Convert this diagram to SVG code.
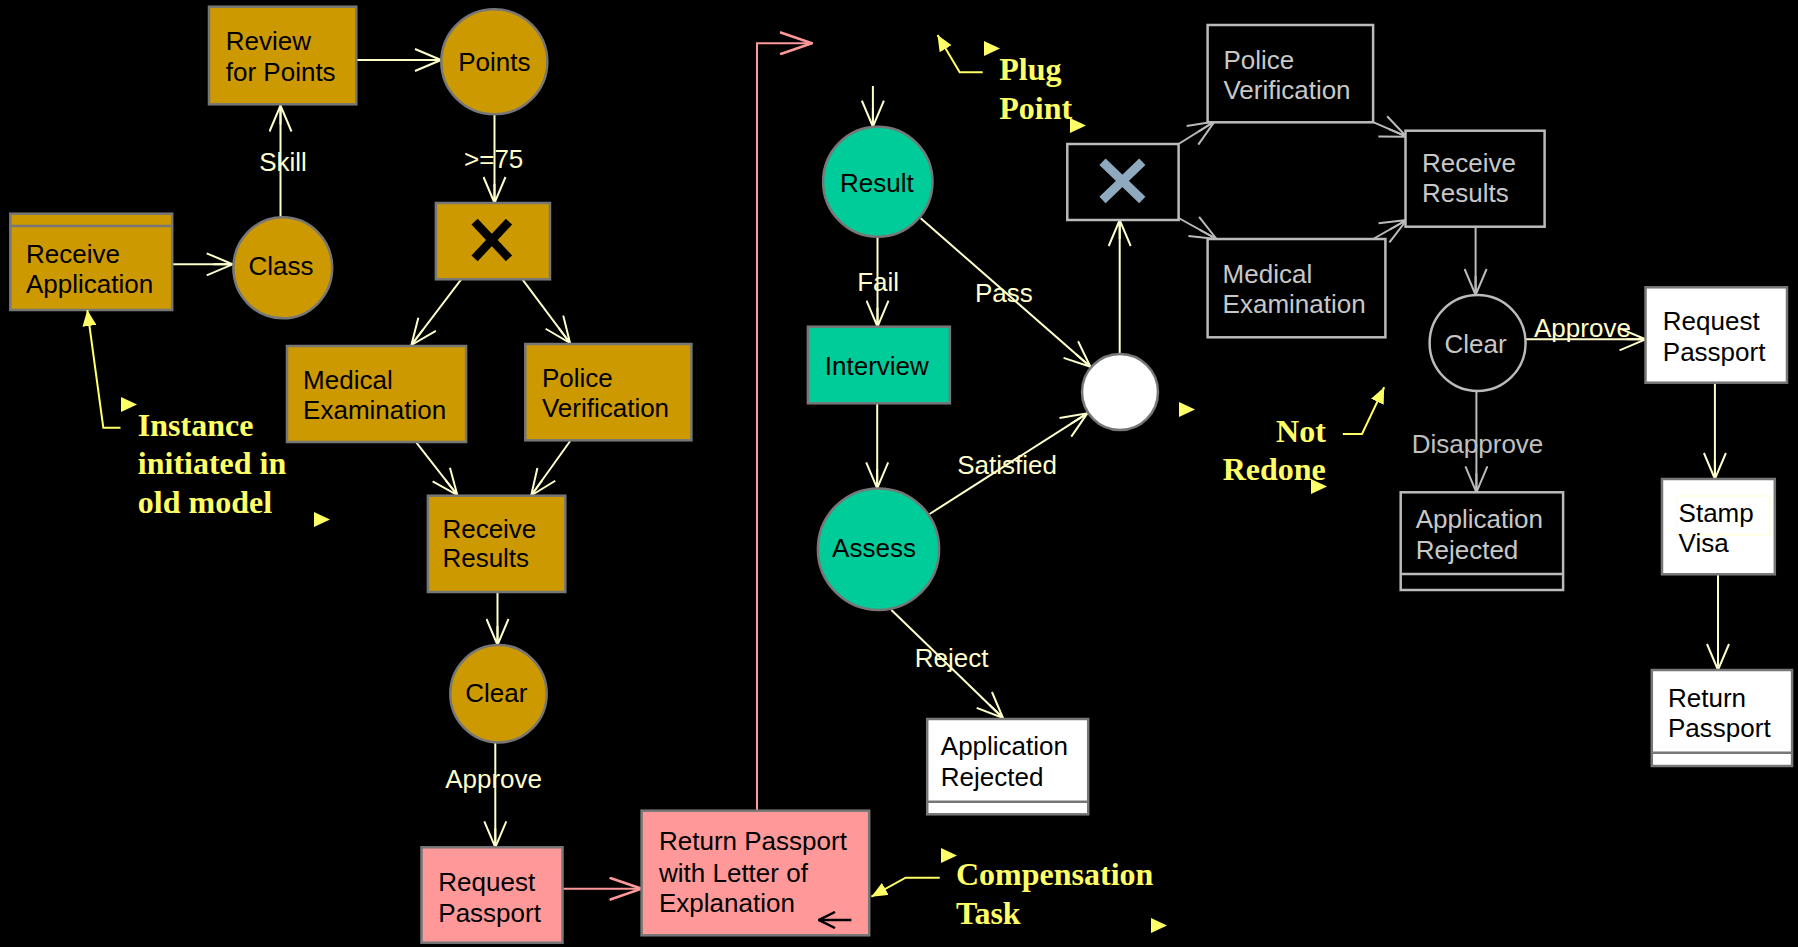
<svg xmlns="http://www.w3.org/2000/svg" width="1798" height="947" viewBox="0 0 1798 947">
  <style>
    .t { font-family: "Liberation Sans", Arial, sans-serif; font-size: 26px; fill: #000; }
    .tg { font-family: "Liberation Sans", Arial, sans-serif; font-size: 26px; fill: #C8C8C8; }
    .lbl { font-family: "Liberation Sans", Arial, sans-serif; font-size: 26px; fill: #FFFFCC; }
    .lblg { font-family: "Liberation Sans", Arial, sans-serif; font-size: 26px; fill: #C0C0C0; }
    .note { font-family: "Liberation Serif", "Times New Roman", serif; font-size: 32px; font-weight: bold; fill: #FFFF66; }
    .gold { fill: #CC9900; stroke: #777777; stroke-width: 2.5; }
    .teal { fill: #00CC99; stroke: #777777; stroke-width: 2.5; }
    .pink { fill: #FF9999; stroke: #777777; stroke-width: 2.5; }
    .white { fill: #FFFFFF; stroke: #777777; stroke-width: 2.5; }
    .dark { fill: #000000; stroke: #BBBBBB; stroke-width: 2.5; }
    .c { fill: none; stroke: #FFFFCC; stroke-width: 2; marker-end: url(#aCream); }
    .cg { fill: none; stroke: #BBBBBB; stroke-width: 2; marker-end: url(#aGray); }
    .cp { fill: none; stroke: #FF9999; stroke-width: 2; marker-end: url(#aPink); }
    .cy { fill: none; stroke: #FFFF66; stroke-width: 2; marker-end: url(#aYellow); }
    .handle { fill: #FFFF66; }
  </style>
  <defs>
    <marker id="aCream" viewBox="0 0 28 24" refX="27" refY="12" markerWidth="28" markerHeight="24" markerUnits="userSpaceOnUse" orient="auto">
      <path d="M1,1 L27,12 L1,23 M27,12 L8,12" fill="none" stroke="#FFFFCC" stroke-width="2"/>
    </marker>
    <marker id="aGray" viewBox="0 0 28 24" refX="27" refY="12" markerWidth="28" markerHeight="24" markerUnits="userSpaceOnUse" orient="auto">
      <path d="M1,1 L27,12 L1,23 M27,12 L8,12" fill="none" stroke="#BBBBBB" stroke-width="2"/>
    </marker>
    <marker id="aPink" viewBox="0 0 34 24" refX="33" refY="12" markerWidth="34" markerHeight="24" markerUnits="userSpaceOnUse" orient="auto">
      <path d="M1,1 L33,12 L1,23" fill="none" stroke="#FF9999" stroke-width="2.5"/>
    </marker>
    <marker id="aYellow" viewBox="0 0 16 14" refX="16" refY="7" markerWidth="16" markerHeight="14" markerUnits="userSpaceOnUse" orient="auto">
      <path d="M0,0 L16,7 L0,14 Z" fill="#FFFF66"/>
    </marker>
    <marker id="aBlack" viewBox="0 0 18 18" refX="17" refY="9" markerWidth="18" markerHeight="18" markerUnits="userSpaceOnUse" orient="auto">
      <path d="M1,1 L17,9 L1,17" fill="none" stroke="#000" stroke-width="2.5"/>
    </marker>
    <path id="tri" d="M0,0 L16,7.5 L0,15 Z"/>
  </defs>

  <rect x="0" y="0" width="1798" height="947" fill="#000000"/>

  <!-- connectors -->
  <g id="connectors">
    <path class="c" d="M171,264.3 L232.7,264.3"/>
    <path class="c" d="M280.5,217 L280.5,105.5"/>
    <path class="c" d="M356.3,60 L441,60"/>
    <path class="c" d="M494.5,114.3 L494.5,203"/>
    <path class="c" d="M461.2,279.3 L411.4,345"/>
    <path class="c" d="M522.4,279.3 L570,343"/>
    <path class="c" d="M416.4,442.7 L457.3,495"/>
    <path class="c" d="M570.2,441 L531.2,495.5"/>
    <path class="c" d="M497.5,592 L497.5,645"/>
    <path class="c" d="M495.3,742.3 L495.3,847.3"/>
    <path class="cp" d="M562.5,888.7 L641.6,888.7"/>
    <path class="cp" d="M757,810.7 L757,43.3 L812,43.3"/>
    <path class="c" d="M872.9,86 L872.9,126.7"/>
    <path class="c" d="M877.5,236.7 L877.5,326.7"/>
    <path class="c" d="M920.7,218.3 L1090.4,366.7"/>
    <path class="c" d="M877.2,403.3 L877.2,488.3"/>
    <path class="c" d="M929.6,514 L1087.3,413.3"/>
    <path class="c" d="M891.4,610 L1003,718"/>
    <path class="c" d="M1119.7,354.3 L1119.7,220"/>
    <path class="cg" d="M1178.6,144 L1214.5,121.5"/>
    <path class="cg" d="M1178.6,218 L1216.5,239"/>
    <path class="cg" d="M1372,121.7 L1406.6,136.7"/>
    <path class="cg" d="M1373.1,239 L1406.6,220"/>
    <path class="cg" d="M1475.6,226.7 L1475.6,295"/>
    <path class="c" d="M1523.7,339.3 L1645.5,339.3"/>
    <path class="cg" d="M1476.4,391 L1476.4,492.3"/>
    <path class="c" d="M1714.9,382.7 L1714.9,479"/>
    <path class="c" d="M1718,574.3 L1718,670"/>

    <!-- transition labels -->
    <text class="lbl" x="283" y="170.7" text-anchor="middle">Skill</text>
    <text class="lbl" x="493.7" y="168.3" text-anchor="middle">&gt;=75</text>
    <text class="lbl" x="493.6" y="788.3" text-anchor="middle">Approve</text>
    <text class="lbl" x="878.2" y="290.7" text-anchor="middle">Fail</text>
    <text class="lbl" x="975" y="301.7">Pass</text>
    <text class="lbl" x="957.2" y="474">Satisfied</text>
    <text class="lbl" x="951.6" y="666.7" text-anchor="middle">Reject</text>
    <text class="lbl" x="1534" y="336.7" fill="#FFFFAA">Approve</text>
    <text class="lblg" x="1411.8" y="452.7">Disapprove</text>
  </g>

  <!-- old model (left) -->
  <g id="receive-application">
    <rect class="gold" x="10.3" y="213.7" width="161.9" height="96.3"/>
    <line x1="10.3" y1="226" x2="172.2" y2="226" stroke="#777777" stroke-width="2.5"/>
    <text class="t" x="26" y="263">Receive</text>
    <text class="t" x="26" y="293">Application</text>
  </g>
  <g id="class">
    <ellipse class="gold" cx="282.8" cy="267.8" rx="49.4" ry="50.5"/>
    <text class="t" x="281" y="275" text-anchor="middle">Class</text>
  </g>
  <g id="review-for-points">
    <rect class="gold" x="209" y="6.7" width="147.3" height="97.6"/>
    <text class="t" x="225.8" y="50">Review</text>
    <text class="t" x="225.8" y="80.7">for Points</text>
  </g>
  <g id="points">
    <ellipse class="gold" cx="494.3" cy="61.8" rx="53" ry="52.5"/>
    <text class="t" x="494.3" y="70.7" text-anchor="middle">Points</text>
  </g>
  <g id="split-left">
    <rect class="gold" x="435.9" y="203" width="114.1" height="76.3"/>
    <path d="M474.6,221.7 L509,258.3 M509,221.7 L474.6,258.3" stroke="#000" stroke-width="8.5"/>
  </g>
  <g id="medical-examination-left">
    <rect class="gold" x="287" y="346" width="179.1" height="96"/>
    <text class="t" x="303.1" y="389.3">Medical</text>
    <text class="t" x="303.1" y="418.7">Examination</text>
  </g>
  <g id="police-verification-left">
    <rect class="gold" x="525.3" y="344" width="166.1" height="96.3"/>
    <text class="t" x="541.9" y="386.7">Police</text>
    <text class="t" x="541.9" y="417.3">Verification</text>
  </g>
  <g id="receive-results-left">
    <rect class="gold" x="427.9" y="495.7" width="137.4" height="96.3"/>
    <text class="t" x="442.4" y="537.7">Receive</text>
    <text class="t" x="442.4" y="567.3">Results</text>
  </g>
  <g id="clear-left">
    <ellipse class="gold" cx="498.5" cy="693.7" rx="48.2" ry="48.7"/>
    <text class="t" x="496.3" y="701.7" text-anchor="middle">Clear</text>
  </g>
  <g id="request-passport-left">
    <rect class="pink" x="421.5" y="847.3" width="141" height="95.4"/>
    <text class="t" x="438.3" y="890.7">Request</text>
    <text class="t" x="438.3" y="921.7">Passport</text>
  </g>
  <g id="return-passport-letter">
    <rect class="pink" x="641.6" y="810.7" width="227.6" height="124.6"/>
    <text class="t" x="659" y="850">Return Passport</text>
    <text class="t" x="659" y="881.7">with Letter of</text>
    <text class="t" x="659" y="912.3">Explanation</text>
    <path d="M851.4,920 L819,920" fill="none" stroke="#000" stroke-width="2.5" marker-end="url(#aBlack)"/>
  </g>

  <!-- compensation fragment (middle) -->
  <g id="result">
    <ellipse class="teal" cx="877.8" cy="181.7" rx="54.7" ry="55"/>
    <text class="t" x="876.9" y="191.7" text-anchor="middle">Result</text>
  </g>
  <g id="interview">
    <rect class="teal" x="807.9" y="326.7" width="142" height="76.6"/>
    <text class="t" x="876.8" y="375" text-anchor="middle">Interview</text>
  </g>
  <g id="assess">
    <ellipse class="teal" cx="878.5" cy="549.2" rx="60.6" ry="60.8"/>
    <text class="t" x="874" y="557.3" text-anchor="middle">Assess</text>
  </g>
  <g id="application-rejected-mid">
    <rect class="white" x="927.2" y="719" width="161" height="95.3"/>
    <line x1="927.2" y1="801.7" x2="1088.2" y2="801.7" stroke="#777777" stroke-width="2.5"/>
    <text class="t" x="940.8" y="755">Application</text>
    <text class="t" x="940.8" y="785.7">Rejected</text>
  </g>
  <g id="merge">
    <ellipse cx="1120" cy="392" rx="38" ry="38" fill="#FFFFFF" stroke="#777777" stroke-width="2.5"/>
  </g>

  <!-- new model (right) -->
  <g id="split-right">
    <rect class="dark" x="1067.3" y="144" width="111.3" height="76"/>
    <path d="M1102.5,161.7 L1142.3,200 M1142.3,161.7 L1102.5,200" stroke="#8FAABF" stroke-width="9"/>
  </g>
  <g id="police-verification-right">
    <rect class="dark" x="1207.6" y="25" width="165.5" height="97.3"/>
    <text class="tg" x="1223.4" y="69">Police</text>
    <text class="tg" x="1223.4" y="99">Verification</text>
  </g>
  <g id="medical-examination-right">
    <rect class="dark" x="1207.6" y="239" width="177.8" height="98.3"/>
    <text class="tg" x="1222.6" y="282.7">Medical</text>
    <text class="tg" x="1222.6" y="313.3">Examination</text>
  </g>
  <g id="receive-results-right">
    <rect class="dark" x="1405.5" y="130.7" width="139.1" height="96"/>
    <text class="tg" x="1422" y="171.7">Receive</text>
    <text class="tg" x="1422" y="202.3">Results</text>
  </g>
  <g id="clear-right">
    <ellipse class="dark" cx="1477.6" cy="343" rx="48" ry="48"/>
    <text class="tg" x="1475.6" y="352.7" text-anchor="middle">Clear</text>
  </g>
  <g id="application-rejected-right">
    <rect class="dark" x="1400.7" y="492.3" width="162.4" height="97.7"/>
    <line x1="1400.7" y1="574" x2="1563.1" y2="574" stroke="#BBBBBB" stroke-width="2.5"/>
    <text class="tg" x="1415.7" y="528.3">Application</text>
    <text class="tg" x="1415.7" y="559.3">Rejected</text>
  </g>
  <g id="request-passport-right">
    <rect class="white" x="1645.5" y="287.3" width="141.5" height="95.4"/>
    <text class="t" x="1662.8" y="330">Request</text>
    <text class="t" x="1662.8" y="361">Passport</text>
  </g>
  <g id="stamp-visa">
    <rect class="white" x="1662" y="479" width="112.8" height="95.3"/>
    <rect x="1677.4" y="496" width="92.6" height="39" fill="none" stroke="#FFFFCC" stroke-width="1"/>
    <text class="t" x="1678.6" y="521.7">Stamp</text>
    <text class="t" x="1678.6" y="551.7">Visa</text>
  </g>
  <g id="return-passport-right">
    <rect class="white" x="1651.8" y="670" width="140.3" height="96"/>
    <line x1="1651.8" y1="752.7" x2="1792.1" y2="752.7" stroke="#777777" stroke-width="2.5"/>
    <text class="t" x="1668" y="706.7">Return</text>
    <text class="t" x="1668" y="736.7">Passport</text>
  </g>

  <!-- callout notes -->
  <g id="note-instance">
    <path class="cy" d="M120.5,427.7 L103.3,427.7 L87.3,310"/>
    <use href="#tri" x="121" y="397" class="handle"/>
    <use href="#tri" x="314" y="512" class="handle"/>
    <text class="note" x="137.8" y="436">Instance</text>
    <text class="note" x="137.8" y="474">initiated in</text>
    <text class="note" x="137.8" y="512.7">old model</text>
  </g>
  <g id="note-plug-point">
    <path class="cy" d="M982.7,72.3 L959.7,72.3 L937.5,35"/>
    <use href="#tri" x="984" y="41" class="handle"/>
    <use href="#tri" x="1070" y="118" class="handle"/>
    <text class="note" x="999.2" y="80">Plug</text>
    <text class="note" x="999.2" y="119">Point</text>
  </g>
  <g id="note-not-redone">
    <path class="cy" d="M1342.8,434 L1362,434 L1384.2,387.3"/>
    <use href="#tri" x="1179" y="402" class="handle"/>
    <use href="#tri" x="1311" y="479" class="handle"/>
    <text class="note" x="1325.8" y="441.7" text-anchor="end">Not</text>
    <text class="note" x="1325.8" y="480" text-anchor="end">Redone</text>
  </g>
  <g id="note-compensation">
    <path class="cy" d="M939.7,877.7 L905.6,877.7 L871.4,896.7"/>
    <use href="#tri" x="941" y="848" class="handle"/>
    <use href="#tri" x="1151" y="918" class="handle"/>
    <text class="note" x="956" y="885">Compensation</text>
    <text class="note" x="956" y="924">Task</text>
  </g>
</svg>
